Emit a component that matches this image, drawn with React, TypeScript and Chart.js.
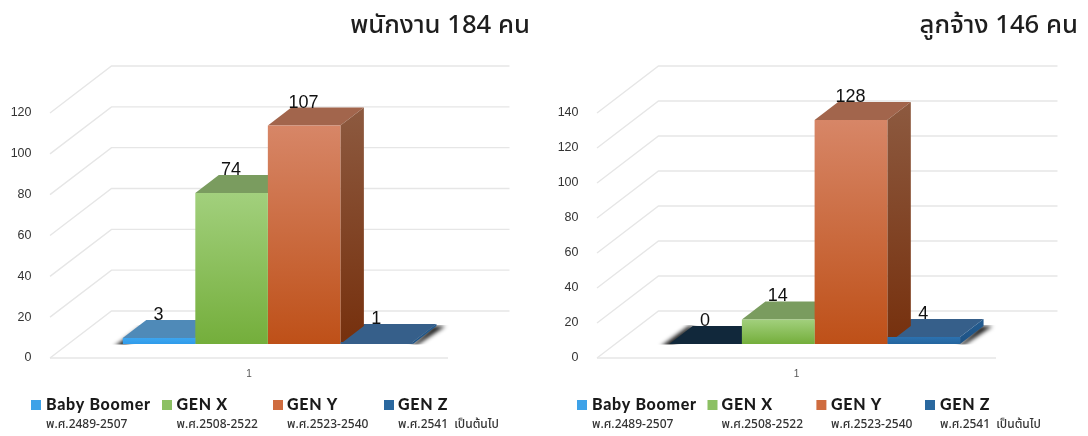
import React, { useEffect, useRef } from "react";
import { Chart, registerables } from "chart.js";

Chart.register(...registerables);

const categories = ["1"];
const seriesNames = ["Baby Boomer", "GEN X", "GEN Y", "GEN Z"];
const birthYears = ["พ.ศ.2489-2507", "พ.ศ.2508-2522", "พ.ศ.2523-2540", "พ.ศ.2541 เป็นต้นไป"];
const staffValues = [3, 74, 107, 1];
const hiredValues = [0, 14, 128, 4];
const staffMax = 120;
const hiredMax = 140;
const staffTitle = "พนักงาน 184 คน";
const hiredTitle = "ลูกจ้าง 146 คน";

const frontTop = ["#3da6f0", "#a2d07d", "#d78667", "#2c72b0"];
const frontBottom = ["#2f9bea", "#74ae3b", "#be5018", "#24659f"];
const topFace = ["#4f8ab8", "#7a9c5f", "#a2654c", "#365f8a"];
const sideTop = ["#3f78a6", "#648a4a", "#8d5a40", "#245c90"];
const sideBottom = ["#2f6a98", "#557a3a", "#76300d", "#1d5285"];
const swatches = ["#3ea2e8", "#8cc063", "#cf6c3f", "#2a689f"];
const emptyTop = "#11283b";

const DEPTH_X = 23.5;
const DEPTH_Y = 18;
const WALL_X = 61.5;
const WALL_Y = 47;
const BAR_SHIFT_Y = -14;
const FONT = '"Liberation Sans", Arial, sans-serif';
const THAI = '"Noto Sans Thai", "Noto Sans Thai Looped", "Noto Sans", "DejaVu Sans", sans-serif';

type Layout = {
  left: number;
  rightPad: number;
  titleRight: number;
  barShift: number;
  swatchX: number[];
  textX: number[];
};

const poly = (ctx: CanvasRenderingContext2D, pts: number[][], fill: any) => {
  ctx.beginPath();
  pts.forEach((p, i) => (i ? ctx.lineTo(p[0], p[1]) : ctx.moveTo(p[0], p[1])));
  ctx.closePath();
  ctx.fillStyle = fill;
  ctx.fill();
};

const facesPlugin = (title: string, layout: Layout) => ({
  id: "faces",
  beforeDatasetsDraw(chart: any) {
    const ctx: CanvasRenderingContext2D = chart.ctx;
    const y = chart.scales.y;
    const { left, right } = chart.chartArea;
    ctx.save();
    ctx.strokeStyle = "#e6e6e6";
    ctx.lineWidth = 1.4;
    y.ticks.forEach((t: any) => {
      const py = y.getPixelForValue(t.value);
      ctx.beginPath();
      ctx.moveTo(left, py);
      ctx.lineTo(left + WALL_X, py - WALL_Y);
      ctx.lineTo(right + WALL_X, py - WALL_Y);
      ctx.stroke();
      if (t.value === 0) {
        ctx.beginPath();
        ctx.moveTo(left, py);
        ctx.lineTo(right, py);
        ctx.stroke();
      }
    });
    ctx.restore();

    ctx.save();
    ctx.translate(layout.barShift, BAR_SHIFT_Y);
    const els = chart.data.datasets.map((_: any, i: number) => chart.getDatasetMeta(i).data[0]);
    const edges = (el: any) => [el.x - el.width / 2, el.x + el.width / 2];
    // soft dark shadow beside the flat outer bars
    [0, 3].forEach((i) => {
      const el = els[i];
      if (el.base - el.y > 12) return;
      const [x0, x1] = edges(el);
      const yb = el.base;
      const yk = yb - DEPTH_Y;
      ctx.save();
      ctx.beginPath();
      ctx.rect(x0 - 40, yk - 1, x1 - x0 + 100, DEPTH_Y + 1.5);
      ctx.clip();
      (ctx as any).filter = "blur(2px)";
      const pts =
        i === 0
          ? [[x0 + 3, yb + 3], [x0 - 9, yb + 3], [x0 + DEPTH_X - 4, yk], [x0 + DEPTH_X + 3, yk]]
          : [[x1 - 3, yb + 3], [x1 + 1, yb + 3], [x1 + DEPTH_X + 9, yk], [x1 + DEPTH_X - 3, yk]];
      poly(ctx, pts, "rgba(0,0,0,0.9)");
      ctx.restore();
    });
    els.forEach((el: any, i: number) => {
      const [x0, x1] = edges(el);
      const value = chart.data.datasets[i].data[0];
      poly(ctx, [[x0, el.y], [x1, el.y], [x1 + DEPTH_X, el.y - DEPTH_Y], [x0 + DEPTH_X, el.y - DEPTH_Y]], value === 0 ? emptyTop : topFace[i]);
    });
    els.forEach((el: any, i: number) => {
      const [, x1] = edges(el);
      const g = ctx.createLinearGradient(0, el.y - DEPTH_Y, 0, el.base);
      g.addColorStop(0, sideTop[i]);
      g.addColorStop(1, sideBottom[i]);
      poly(ctx, [[x1, el.y], [x1 + DEPTH_X, el.y - DEPTH_Y], [x1 + DEPTH_X, el.base - DEPTH_Y], [x1, el.base]], g);
    });
  },
  afterDatasetsDraw(chart: any) {
    const ctx: CanvasRenderingContext2D = chart.ctx;
    chart.data.datasets.forEach((d: any, i: number) => {
      const el = chart.getDatasetMeta(i).data[0];
      ctx.font = `18px ${FONT}`;
      ctx.fillStyle = "#111";
      ctx.textAlign = "center";
      ctx.textBaseline = "middle";
      ctx.fillText(String(d.data[0]), el.x - 0.5, el.y - 23);
    });
    ctx.restore();
  },
  afterDraw(chart: any) {
    const ctx: CanvasRenderingContext2D = chart.ctx;
    ctx.save();
    ctx.textBaseline = "alphabetic";
    ctx.textAlign = "right";
    ctx.fillStyle = "#1e1e1e";
    ctx.font = `500 25.7px ${THAI}`;
    ctx.fillText(title, layout.titleRight, 33);
    ctx.textBaseline = "middle";
    ctx.textAlign = "left";
    chart.data.datasets.forEach((d: any, i: number) => {
      ctx.fillStyle = swatches[i];
      ctx.fillRect(layout.swatchX[i], 400, 10, 10);
      ctx.fillStyle = "#1a1a1a";
      ctx.font = `900 16px Lato, ${FONT}`;
      (ctx as any).letterSpacing = "0.7px";
      ctx.fillText(d.label, layout.textX[i], 405);
      (ctx as any).letterSpacing = "0px";
      (ctx as any).wordSpacing = "3px";
      ctx.fillStyle = "#333";
      ctx.font = `500 12px ${THAI}`;
      ctx.fillText(birthYears[i], layout.textX[i], 426);
      (ctx as any).wordSpacing = "0px";
    });
    ctx.restore();
  },
});

function Panel(props: { values: number[]; max: number; title: string; layout: Layout; x: number }) {
  const ref = useRef<HTMLCanvasElement>(null);
  useEffect(() => {
    const { values, max, title, layout } = props;
    const chart = new Chart(ref.current as HTMLCanvasElement, {
      type: "bar",
      data: {
        labels: categories,
        datasets: seriesNames.map((label, i) => ({
          label,
          data: [values[i]],
          clip: false,
          borderWidth: 0,
          backgroundColor: (c: any) => {
            const ch = c.chart;
            if (!ch.chartArea) return frontBottom[i];
            const s = ch.scales.y;
            const yt = s.getPixelForValue(values[i]);
            const yb = s.getPixelForValue(0);
            if (yb - yt < 3) return topFace[i];
            const g = ch.ctx.createLinearGradient(0, yt, 0, yb);
            g.addColorStop(0, frontTop[i]);
            g.addColorStop(1, frontBottom[i]);
            return g;
          },
        })),
      } as any,
      options: {
        animation: false,
        responsive: false,
        events: [],
        layout: { padding: { top: 113, right: layout.rightPad, left: 0, bottom: 0 } },
        datasets: { bar: { categoryPercentage: 0.729, barPercentage: 1 } },
        plugins: { legend: { display: false }, title: { display: false }, tooltip: { enabled: false } },
        scales: {
          x: {
            grid: { display: false, drawTicks: false },
            border: { display: false },
            ticks: { color: "#555", font: { family: FONT, size: 10 }, padding: 10, maxRotation: 0 },
            afterFit: (s: any) => { s.height = 78; },
          },
          y: {
            min: 0,
            max,
            grid: { display: false, drawTicks: false },
            border: { display: false },
            ticks: { stepSize: 20, color: "#333", font: { family: FONT, size: 12.5 }, padding: 18.5 },
            afterFit: (s: any) => { s.width = layout.left; },
          },
        },
      } as any,
      plugins: [facesPlugin(title, layout)],
    });
    return () => chart.destroy();
  }, []);
  return (
    <canvas
      ref={ref}
      width={544}
      height={436}
      style={{ position: "absolute", left: props.x, top: 0, width: 544, height: 436, filter: "blur(0.45px)" }}
    />
  );
}

export default function App() {
  return (
    <div style={{ position: "absolute", left: 0, top: 0, width: 1088, height: 436, background: "#fff", overflow: "hidden" }}>
      <Panel
        x={0}
        values={staffValues}
        max={staffMax}
        title={staffTitle}
        layout={{ left: 50, rightPad: 96, barShift: 18.85, titleRight: 530, swatchX: [31, 162, 273, 384], textX: [46, 176.5, 287, 398] }}
      />
      <Panel
        x={544}
        values={hiredValues}
        max={hiredMax}
        title={hiredTitle}
        layout={{ left: 53, rightPad: 92, barShift: 18.1, titleRight: 534, swatchX: [33, 163.5, 272.4, 381], textX: [48, 177.6, 287, 396] }}
      />
    </div>
  );
}
